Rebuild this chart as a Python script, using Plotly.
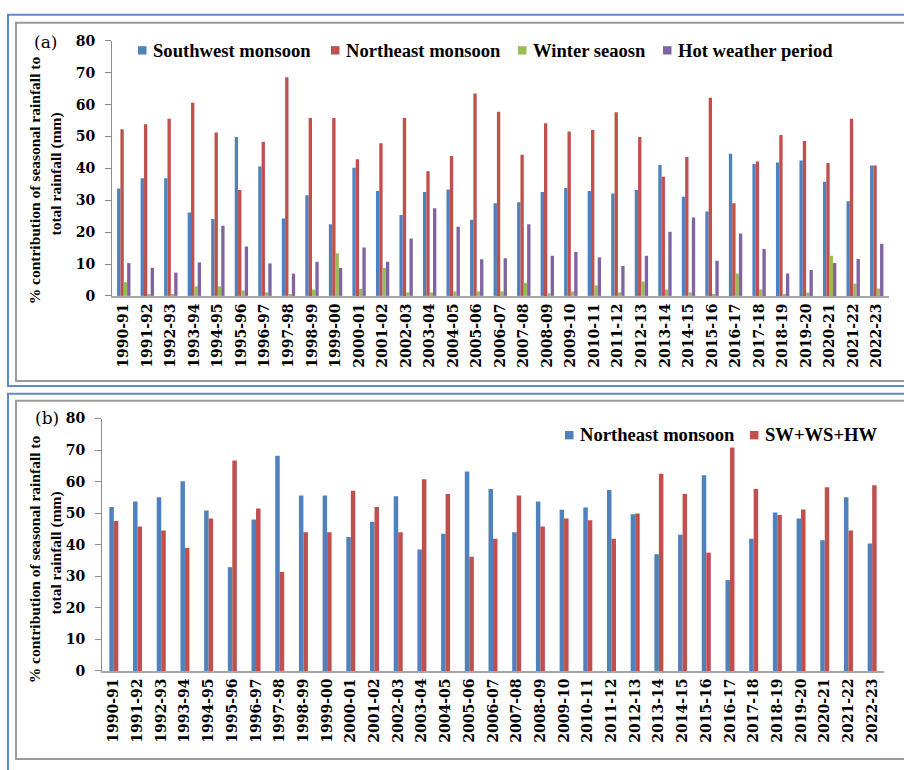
import plotly.graph_objects as go

W, H = 904, 770

years = ["1990-91", "1991-92", "1992-93", "1993-94", "1994-95", "1995-96", "1996-97",
         "1997-98", "1998-99", "1999-00", "2000-01", "2001-02", "2002-03", "2003-04",
         "2004-05", "2005-06", "2006-07", "2007-08", "2008-09", "2009-10", "2010-11",
         "2011-12", "2012-13", "2013-14", "2014-15", "2015-16", "2016-17", "2017-18",
         "2018-19", "2019-20", "2020-21", "2021-22", "2022-23"]

# (a) seasonal shares of annual rainfall (%)
southwest = [33.7, 36.9, 36.9, 26.2, 24.1, 49.9, 40.6, 24.3, 31.6, 22.5, 40.2, 32.9, 25.4,
             32.6, 33.4, 23.9, 29.1, 29.4, 32.6, 33.9, 32.9, 32.1, 33.2, 41.1, 31.1, 26.5,
             44.6, 41.4, 41.9, 42.5, 35.8, 29.7, 40.9]
northeast = [52.3, 53.9, 55.6, 60.6, 51.3, 33.2, 48.4, 68.6, 55.8, 55.8, 42.9, 47.9, 55.8,
             39.1, 43.9, 63.5, 57.8, 44.3, 54.2, 51.6, 52.1, 57.6, 49.9, 37.4, 43.6, 62.2,
             29.1, 42.2, 50.5, 48.6, 41.7, 55.6, 40.9]
winter = [4.3, 0.5, 0.5, 3.0, 3.0, 1.7, 1.1, 0.5, 2.0, 13.4, 2.2, 8.8, 1.1, 1.1, 1.4, 1.4,
          1.4, 4.1, 0.8, 1.4, 3.3, 1.1, 4.5, 2.0, 1.1, 0.3, 7.0, 2.0, 0.6, 1.1, 12.6, 3.8, 2.3]
hot_weather = [10.3, 8.8, 7.3, 10.5, 22.0, 15.5, 10.2, 7.0, 10.7, 8.8, 15.2, 10.7, 18.0,
               27.5, 21.7, 11.5, 11.8, 22.5, 12.6, 13.8, 12.1, 9.4, 12.6, 20.1, 24.6, 11.0,
               19.6, 14.7, 7.0, 8.1, 10.3, 11.6, 16.4]

# (b) northeast monsoon vs. the other three seasons combined (%)
ne_share = [52.0, 53.7, 55.1, 60.1, 50.9, 32.9, 48.0, 68.2, 55.6, 55.6, 42.5, 47.3, 55.4,
            38.5, 43.5, 63.2, 57.7, 44.0, 53.7, 51.1, 51.8, 57.4, 49.7, 37.0, 43.2, 62.0,
            28.8, 41.9, 50.2, 48.3, 41.4, 55.1, 40.4]
sw_ws_hw = [47.5, 45.8, 44.5, 39.0, 48.3, 66.7, 51.5, 31.4, 44.0, 44.0, 57.1, 52.0, 44.0,
            60.8, 56.1, 36.2, 41.9, 55.6, 45.8, 48.3, 47.8, 41.9, 49.9, 62.5, 56.1, 37.5,
            70.8, 57.7, 49.4, 51.2, 58.2, 44.5, 58.9]

y_ticks = [0, 10, 20, 30, 40, 50, 60, 70, 80]

BLUE, RED, GREEN, PURPLE = "#4F81BD", "#C0504D", "#9BBB59", "#8064A2"
TICK_FONT = "DejaVu Serif"
TEXT_FONT = "Liberation Serif"
AX_GREY = "#8C8C8C"


def px(x):
    return x / W


def py(y):
    return 1 - y / H


fig = go.Figure()

# panel (a): four bars per year
wa = 0.142
for name, vals, col, k in [("Southwest monsoon", southwest, BLUE, -2),
                           ("Northeast monsoon", northeast, RED, -1),
                           ("Winter seaosn", winter, GREEN, 0),
                           ("Hot weather period", hot_weather, PURPLE, 1)]:
    fig.add_trace(go.Bar(x=years, y=vals, name=name, width=wa, offset=k * wa,
                         marker=dict(color=col, line=dict(width=0)),
                         xaxis="x", yaxis="y", showlegend=False))

# panel (b): two bars per year
wb = 0.19
for name, vals, col, k in [("Northeast monsoon", ne_share, BLUE, -1),
                           ("SW+WS+HW", sw_ws_hw, RED, 0)]:
    fig.add_trace(go.Bar(x=years, y=vals, name=name, width=wb, offset=k * wb,
                         marker=dict(color=col, line=dict(width=0)),
                         xaxis="x2", yaxis="y2", showlegend=False))

tick_font = dict(family=TICK_FONT, size=14, color="black", weight="bold")


def yaxis(domain, anchor):
    return dict(domain=domain, anchor=anchor, range=[0, 80], tickvals=y_ticks,
                showgrid=False, zeroline=False, showline=True, linecolor=AX_GREY,
                linewidth=1, ticks="outside", ticklen=6, tickcolor=AX_GREY,
                ticklabelstandoff=7, tickfont=tick_font, fixedrange=True)


def xaxis(domain, anchor):
    return dict(domain=domain, anchor=anchor, type="category", range=[-0.5, 32.5],
                showgrid=False, zeroline=False, showline=True, linecolor="#A6A6A6",
                linewidth=2, ticks="", tickangle=-90, tickfont=tick_font,
                fixedrange=True)


shapes = []
annotations = []

# panel frames: outer blue border and inner grey border
for top, bottom in [(7, 386), (394, 780)]:
    shapes.append(dict(type="rect", xref="paper", yref="paper",
                       x0=px(8), x1=px(912), y0=py(bottom), y1=py(top),
                       line=dict(color="#5B8BC9", width=2), fillcolor="rgba(0,0,0,0)"))
for top, bottom in [(15, 381), (401, 767)]:
    shapes.append(dict(type="rect", xref="paper", yref="paper",
                       x0=px(16), x1=px(912), y0=py(bottom), y1=py(top),
                       line=dict(color="#9A9A9A", width=2), fillcolor="rgba(0,0,0,0)"))

legend_font = dict(family=TEXT_FONT, size=18.6, color="black", weight="bold")


def legend_entry(x, y, col, text):
    shapes.append(dict(type="rect", xref="paper", yref="paper",
                       x0=px(x), x1=px(x + 8.5), y0=py(y + 4.5), y1=py(y - 4),
                       line=dict(width=0), fillcolor=col))
    annotations.append(dict(xref="paper", yref="paper", x=px(x + 13), y=py(y),
                            xanchor="left", yanchor="middle", showarrow=False,
                            text=text, font=legend_font))


legend_entry(138, 43, BLUE, "Southwest monsoon")
legend_entry(331, 43, RED, "Northeast monsoon")
legend_entry(518, 43, GREEN, "Winter seaosn")
legend_entry(663, 43, PURPLE, "Hot weather period")
legend_entry(565, 436, BLUE, "Northeast monsoon")
legend_entry(750, 436, RED, "SW+WS+HW")

# y-axis title, two rotated lines per panel
title_font = dict(family=TEXT_FONT, size=15.5, color="black", weight="bold")
for dy in (0, 387):
    for text, xc, yc in [("% contribution of seasonal rainfall to", 34, 176),
                         ("total rainfall (mm)", 56, 170)]:
        annotations.append(dict(xref="paper", yref="paper", x=px(xc), y=py(yc + dy),
                                xanchor="center", yanchor="middle", showarrow=False,
                                textangle=-90, text=text, font=title_font))

for lbl, xc, yc in [("(a)", 45, 35), ("(b)", 47, 419)]:
    annotations.append(dict(xref="paper", yref="paper", x=px(xc), y=py(yc),
                            xanchor="center", yanchor="middle", showarrow=False,
                            text=lbl, font=dict(family="DejaVu Serif", size=17, color="black")))

fig.update_layout(
    width=W, height=H,
    margin=dict(l=0, r=0, t=0, b=0),
    paper_bgcolor="white", plot_bgcolor="white",
    barmode="overlay",
    xaxis=xaxis([px(112), px(888.5)], "y"),
    yaxis=yaxis([py(294), py(33.7)], "x"),
    xaxis2=xaxis([px(102), px(884)], "y2"),
    yaxis2=yaxis([py(677), py(419.3)], "x2"),
    shapes=shapes,
    annotations=annotations,
    showlegend=False,
)

fig.write_html("out.html")
